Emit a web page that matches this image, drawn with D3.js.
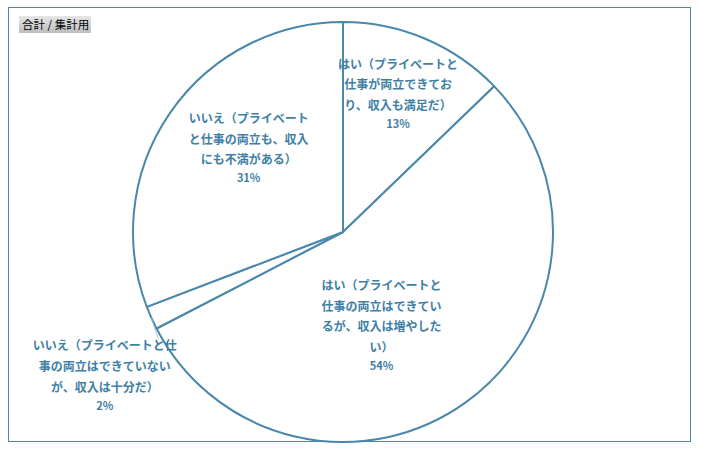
<!DOCTYPE html>
<html>
<head>
<meta charset="utf-8">
<script src="https://d3js.org/d3.v7.min.js"></script>
<style>
  body { margin: 0; background: #fff; }
  text { font-family: "Noto Sans CJK JP", "Noto Sans", sans-serif; }
</style>
</head>
<body></body>
<script>

    // data
    var categories = [
        "はい（プライベートと仕事が両立できており、収入も満足だ）",
        "はい（プライベートと仕事の両立はできているが、収入は増やしたい）",
        "いいえ（プライベートと仕事の両立はできていないが、収入は十分だ）",
        "いいえ（プライベートと仕事の両立も、収入にも不満がある）"
    ];
    var values = [12.8, 54.6, 1.8, 30.8];
    var pctLabels = ["13%", "54%", "2%", "31%"];
    // how many characters go on each wrapped line of a label
    var lineBreaks = [[10, 9], [10, 10, 10], [12, 11], [10, 10]];
    var legendText = "合計 / 集計用";

    var width = 701, height = 460;
    var blue = "#4a87ab";

    var svg = d3.select("body")
        .append("svg")
        .attr("width", width)
        .attr("height", height);

    // outer frame
    svg.append("rect")
        .attr("x", 8.5).attr("y", 7.5)
        .attr("width", 682).attr("height", 434)
        .attr("fill", "none")
        .attr("stroke", blue)
        .attr("stroke-width", 1);

    // grey title box
    var grad = svg.append("defs").append("linearGradient")
        .attr("id", "tg").attr("x1", 0).attr("y1", 0).attr("x2", 0).attr("y2", 1);
    grad.append("stop").attr("offset", "0%").attr("stop-color", "#e6e6e6");
    grad.append("stop").attr("offset", "100%").attr("stop-color", "#bdbdbd");

    svg.append("rect")
        .attr("x", 19).attr("y", 16)
        .attr("width", 72).attr("height", 17)
        .attr("fill", "url(#tg)");
    svg.append("text")
        .attr("x", 22).attr("y", 29)
        .attr("font-size", 11.5)
        .attr("fill", "#000")
        .text(legendText);

    // pie
    var cx = 343, cy = 232, r = 210;
    var g = svg.append("g")
        .attr("transform", "translate(" + cx + "," + cy + ")");

    var pie = d3.pie().sort(null).value(d => d);
    var arcs = pie(values);
    var arc = d3.arc().innerRadius(0).outerRadius(r);

    g.selectAll("path")
        .data(arcs)
        .enter()
        .append("path")
        .attr("d", arc)
        .attr("fill", "#fff")
        .attr("stroke", blue)
        .attr("stroke-width", 2)
        .attr("stroke-linejoin", "round");

    // label anchors: [angle in degrees, distance from centre]
    var labelPos = [[22, 147], [158, 103], [238.6, 279], [311, 125]];
    var lineH = 20.8;

    arcs.forEach(function (d, i) {
        var a = labelPos[i][0] * Math.PI / 180, dist = labelPos[i][1];
        var lx = Math.sin(a) * dist, ly = -Math.cos(a) * dist;

        // split label text into lines
        var txt = categories[i], lines = [], p = 0;
        lineBreaks[i].forEach(function (n) { lines.push(txt.slice(p, p + n)); p += n; });
        if (p < txt.length) lines.push(txt.slice(p));
        lines.push(pctLabels[i]);

        var top = ly - (lines.length - 1) * lineH / 2;
        var t = g.append("text")
            .attr("text-anchor", "middle")
            .attr("font-size", 12)
            .attr("font-weight", "bold")
            .attr("fill", "#3f7fa6");
        lines.forEach(function (s, j) {
            var isPct = j == lines.length - 1;
            t.append("tspan")
                .attr("x", lx)
                .attr("y", top + j * lineH - (isPct ? 3 : 0) + 4)
                .attr("font-size", isPct ? 11 : 12)
                .text(s);
        });

        // thin leader line for the small outside slice
        if (i == 2) {
            var m = (d.startAngle + d.endAngle) / 2;
            g.append("line")
                .attr("x1", Math.sin(m) * r).attr("y1", -Math.cos(m) * r)
                .attr("x2", Math.sin(m) * r + 7).attr("y2", -Math.cos(m) * r + 21)
                .attr("stroke", "#9bbfd4")
                .attr("stroke-width", 0.8);
        }
    });
</script>
</html>
